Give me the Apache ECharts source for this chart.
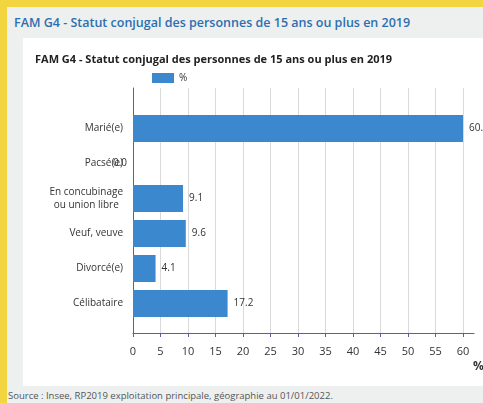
<!DOCTYPE html>
<html>
<head>
<meta charset="utf-8">
<script src="https://cdn.jsdelivr.net/npm/echarts@6/dist/echarts.min.js"></script>
<style>
  html, body { margin: 0; padding: 0; width: 483px; height: 403px; overflow: hidden; background: #f3d63f; font-family: "Open Sans", sans-serif; }
  #panel { position: absolute; left: 7px; top: 7px; width: 476px; height: 396px; background: #eef0ef; }
  #outerTitle { position: absolute; left: 14px; top: 14px; font-size: 12.5px; font-weight: 600; color: #2c6fb0; white-space: nowrap; }
  #card { position: absolute; left: 23px; top: 38px; width: 460px; height: 348px; background: #ffffff; }
  #source { position: absolute; left: 8px; top: 389px; font-size: 9.5px; color: #555; white-space: nowrap; }
  #chart { position: absolute; left: 0; top: 0; width: 483px; height: 403px; }
</style>
</head>
<body>
<div id="panel"></div>
<div id="outerTitle">FAM G4 - Statut conjugal des personnes de 15 ans ou plus en 2019</div>
<div id="card"></div>
<div id="source">Source : Insee, RP2019 exploitation principale, géographie au 01/01/2022.</div>
<div id="chart"></div>
<script>
const chartTitle = "FAM G4 - Statut conjugal des personnes de 15 ans ou plus en 2019";
const categories = ["Marié(e)", "Pacsé(e)", "En concubinage\nou union libre", "Veuf, veuve", "Divorcé(e)", "Célibataire"];
const values = [60.0, 0.0, 9.1, 9.6, 4.1, 17.2];
const seriesName = "%";
const axisMax = 60;
const axisLineMax = 62;
const tickStep = 5;

const chart = echarts.init(document.getElementById('chart'), null, { renderer: 'canvas' });
const axisColor = '#5a5ea8';
const textColor = '#333333';
const barColor = '#3b88cf';

const option = {
  animation: false,
  backgroundColor: 'transparent',
  textStyle: { fontFamily: '"Open Sans", sans-serif' },
  title: {
    text: chartTitle, left: 30, top: 49,
    textStyle: { fontSize: 11, fontWeight: 'bold', color: '#222', fontFamily: '"Open Sans", sans-serif' }
  },
  legend: {
    left: 147, top: 68, itemWidth: 22, itemHeight: 10, itemGap: 8,
    icon: 'rect',
    textStyle: { fontSize: 10, color: textColor },
    data: [seriesName]
  },
  grid: [
    { left: 133, right: 20, top: 88, bottom: 70 },
    { left: 133, right: 9, top: 88, bottom: 70 },
    { left: 133, right: 20, top: 111, bottom: 82 }
  ],
  xAxis: [
    {
      gridIndex: 0, type: 'value', min: 0, max: axisMax, interval: tickStep,
      axisLine: { show: false },
      axisTick: { show: true, length: 4, lineStyle: { color: axisColor } },
      axisLabel: { show: true, margin: 13, fontSize: 11, color: textColor },
      splitLine: { show: true, lineStyle: { color: '#d9d9d9', width: 1 } }
    },
    {
      gridIndex: 1, type: 'value', min: 0, max: axisLineMax,
      axisLine: { show: true, lineStyle: { color: axisColor, width: 1 } },
      axisTick: { show: false }, axisLabel: { show: false }, splitLine: { show: false }
    },
    {
      gridIndex: 2, type: 'value', min: 0, max: axisMax, show: false
    }
  ],
  yAxis: [
    {
      gridIndex: 0, type: 'category', data: categories, inverse: true,
      axisLine: { show: true, lineStyle: { color: axisColor, width: 1 } },
      axisTick: { show: false }, axisLabel: { show: false }, splitLine: { show: false }
    },
    {
      gridIndex: 1, type: 'category', data: categories, show: false
    },
    {
      gridIndex: 2, type: 'category', data: categories, inverse: true,
      axisLine: { show: false }, axisTick: { show: false },
      axisLabel: {
        margin: 10, fontSize: 10, color: textColor,
        formatter: function (v) { return v.split('\n').map(function (s) { return '{c|' + s + '}'; }).join('\n'); },
        rich: { c: { align: 'center', fontSize: 10, color: textColor, lineHeight: 13 } }
      }
    }
  ],
  graphic: [
    { type: 'text', left: 473, top: 361, style: { text: '%', fill: '#333', font: 'bold 12px "Open Sans", sans-serif' } }
  ],
  series: [
    {
      name: seriesName, type: 'bar', xAxisIndex: 2, yAxisIndex: 2,
      barWidth: 27,
      itemStyle: { color: barColor },
      data: values.map(function (v) {
        return { value: v, label: { position: v === 0 ? 'left' : 'right' } };
      }),
      label: {
        show: true, position: 'right', distance: 6, fontSize: 10, color: textColor,
        formatter: function (p) { return p.value.toFixed(1); }
      }
    }
  ]
};
chart.setOption(option);
</script>
</body>
</html>
